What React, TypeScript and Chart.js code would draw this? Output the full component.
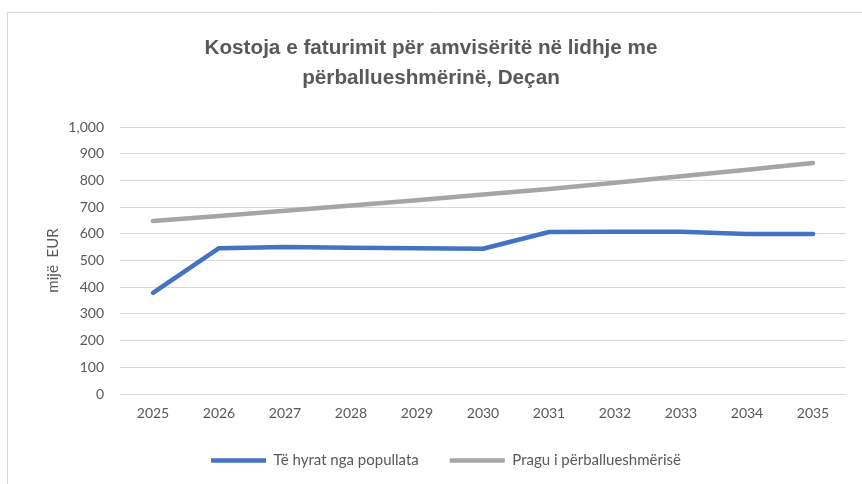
import React, { useEffect, useRef } from "react";
import { Chart, registerables } from "chart.js";

Chart.register(...registerables);

const years = ["2025", "2026", "2027", "2028", "2029", "2030", "2031", "2032", "2033", "2034", "2035"];
const revenue = [379, 546, 551, 548, 546, 544, 607, 608, 608, 599, 599];
const threshold = [648, 667, 686, 706, 726, 747, 768, 791, 816, 840, 865];
const seriesNames = ["Të hyrat nga popullata", "Pragu i përballueshmërisë"];
const titleLines = ["Kostoja e faturimit për amvisëritë në lidhje me", "përballueshmërinë, Deçan"];
const yTitle = "mijë  EUR";
const yMin = 0;
const yMax = 1000;
const yStep = 100;

const TEXT = "#595959";
const GRID = "#d9d9d9";
const FONT = "Lato, 'Liberation Sans', sans-serif";

const framePlugin = {
  id: "frame",
  beforeDraw(chart: any) {
    const { ctx, width, height } = chart;
    ctx.save();
    ctx.fillStyle = "#ffffff";
    ctx.fillRect(0, 0, width, height);
    ctx.strokeStyle = GRID;
    ctx.lineWidth = 1;
    ctx.beginPath();
    ctx.moveTo(7.5, height);
    ctx.lineTo(7.5, 12.5);
    ctx.lineTo(width, 12.5);
    ctx.stroke();
    ctx.restore();
  },
  afterLayout(chart: any) {
    if (chart.legend) {
      chart.legend.left += 19;
      chart.legend.right += 19;
    }
    if (chart.titleBlock) {
      chart.titleBlock.left += 4;
      chart.titleBlock.right += 4;
    }
  },
};

export default function App() {
  const ref = useRef<HTMLCanvasElement | null>(null);

  useEffect(() => {
    if (!ref.current) return;
    const chart = new Chart(ref.current, {
      type: "line",
      data: {
        labels: years,
        datasets: [
          {
            label: seriesNames[0],
            data: revenue,
            borderColor: "#4472C4",
            backgroundColor: "#4472C4",
            borderWidth: 4.5,
            borderCapStyle: "round",
            borderJoinStyle: "round",
            pointRadius: 0,
            tension: 0,
          },
          {
            label: seriesNames[1],
            data: threshold,
            borderColor: "#A5A5A5",
            backgroundColor: "#A5A5A5",
            borderWidth: 4.5,
            borderCapStyle: "round",
            borderJoinStyle: "round",
            pointRadius: 0,
            tension: 0,
          },
        ],
      },
      options: {
        animation: false,
        responsive: true,
        maintainAspectRatio: false,
        layout: { padding: { left: 8, right: 16, top: 0, bottom: 6 } },
        plugins: {
          title: {
            display: true,
            text: titleLines,
            color: TEXT,
            font: { size: 20.7, weight: "bold", family: "'Liberation Sans', Arial, sans-serif", lineHeight: 1.45 },
            padding: { top: 33, bottom: 34 },
          },
          legend: {
            position: "bottom",
            labels: {
              usePointStyle: true,
              pointStyle: "line",
              pointStyleWidth: 55,
              padding: 31,
              color: TEXT,
              font: { size: 15, family: FONT },
            },
          },
          tooltip: { enabled: false },
        },
        scales: {
          x: {
            offset: true,
            grid: { display: false, drawTicks: false },
            border: { display: false },
            ticks: { padding: 11, color: TEXT, font: { size: 14, family: FONT } },
            afterFit: (s: any) => {
              s.height = 28;
            },
          },
          y: {
            min: yMin,
            max: yMax,
            grid: { color: GRID, lineWidth: 1, drawTicks: false },
            border: { display: false },
            ticks: {
              stepSize: yStep,
              padding: 16,
              color: TEXT,
              font: { size: 14, family: FONT },
              callback: (v: any) => Number(v).toLocaleString("en-US"),
            },
            title: {
              display: true,
              text: yTitle,
              color: TEXT,
              font: { size: 15, family: FONT },
              padding: { top: 36, bottom: 0 },
            },
            afterFit: (s: any) => {
              s.width = 112;
            },
          },
        },
      },
      plugins: [framePlugin],
    } as any);
    return () => chart.destroy();
  }, []);

  return (
    <div style={{ position: "absolute", left: 0, top: 0, width: 862, height: 484 }}>
      <canvas ref={ref} />
    </div>
  );
}
